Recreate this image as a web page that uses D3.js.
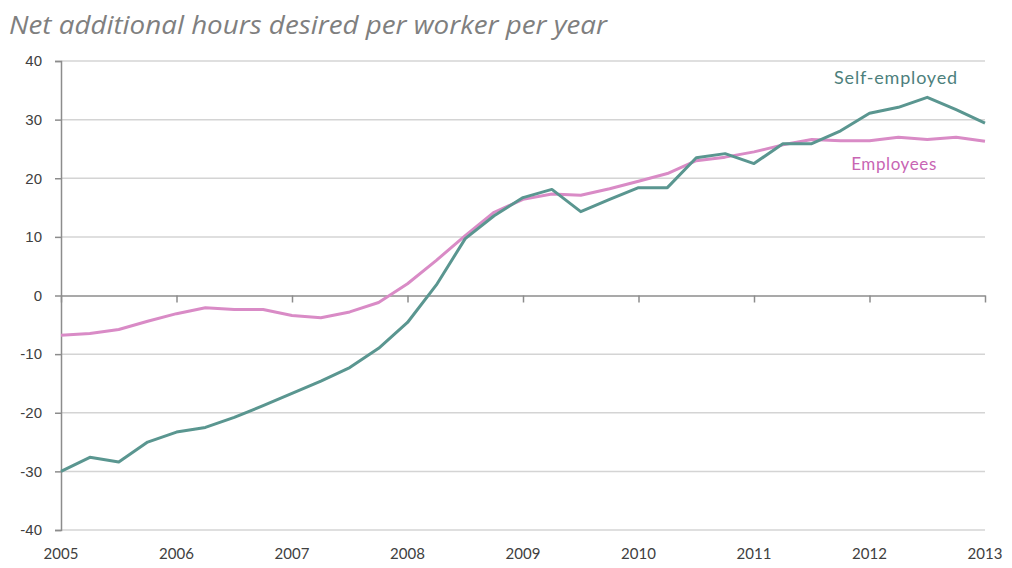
<!DOCTYPE html>
<html>
<head>
<meta charset="utf-8">
<script src="https://cdn.jsdelivr.net/npm/d3@7"></script>
<style>
  body { margin: 0; background: #fff; }
  svg { display: block; font-family: Lato, "Open Sans", sans-serif; }
</style>
</head>
<body>
<script>
// quarterly, 2005 Q1 .. 2013 Q1
const quarters = d3.range(33).map(i => 2005 + i / 4);

const selfEmployed = [
  -30, -27.6, -28.4, -25, -23.3, -22.5, -20.8, -18.8, -16.7, -14.6, -12.3, -9, -4.6,
  1.8, 9.7, 13.6, 16.7, 18.1, 14.3, 16.4, 18.4, 18.4, 23.5, 24.2, 22.5, 25.9,
  25.9, 28.1, 31.1, 32.1, 33.8, 31.7, 29.4
];

const employees = [
  -6.8, -6.5, -5.8, -4.4, -3.1, -2.1, -2.4, -2.4, -3.4, -3.8, -2.8, -1.2, 2,
  6, 10.2, 14.2, 16.4, 17.3, 17.1, 18.2, 19.5, 20.8, 23, 23.6, 24.5, 25.7,
  26.6, 26.4, 26.4, 27, 26.6, 27, 26.3
];

const yTicks = [-40, -30, -20, -10, 0, 10, 20, 30, 40];
const yearTicks = d3.range(2005, 2014);

const width = 1012, height = 568;
const margin = {top: 61, right: 27, bottom: 38, left: 61};

const svg = d3.select('body').append('svg')
  .attr('width', width)
  .attr('height', height);

const x = d3.scaleLinear()
  .domain([2005, 2013])
  .range([margin.left, width - margin.right]);

const y = d3.scaleLinear()
  .domain([-40, 40])
  .range([height - margin.bottom, margin.top]);

// title
svg.append('text')
  .attr('x', 9)
  .attr('y', 34)
  .attr('fill', '#7f7f7f')
  .attr('font-family', '"Open Sans", sans-serif')
  .attr('font-size', 26)
  .attr('font-style', 'italic')
  .attr('textLength', 598)
  .attr('lengthAdjust', 'spacingAndGlyphs')
  .text('Net additional hours desired per worker per year');

// gridlines
svg.append('g')
  .selectAll('line')
  .data(yTicks.filter(d => d !== 0))
  .join('line')
    .attr('x1', x(2005))
    .attr('x2', x(2013))
    .attr('y1', d => y(d))
    .attr('y2', d => y(d))
    .attr('stroke', '#d4d4d4')
    .attr('stroke-width', 1.5);

// y axis
const yAxis = svg.append('g')
  .attr('transform', `translate(${x(2005)},0)`)
  .call(d3.axisLeft(y).tickValues(yTicks).tickSize(6).tickPadding(13)
    .tickFormat(d => String(d)));
yAxis.select('.domain').attr('stroke', '#8c8c8c').attr('stroke-width', 1.5);
yAxis.selectAll('.tick line').attr('stroke', '#8c8c8c').attr('stroke-width', 1.5);
yAxis.selectAll('.tick text')
  .attr('fill', '#404040')
  .attr('font-size', 15);

// zero axis with year ticks
const xAxis = svg.append('g')
  .attr('transform', `translate(0,${y(0)})`)
  .call(d3.axisBottom(x).tickValues(yearTicks).tickSize(7).tickSizeOuter(0).tickFormat(''));
xAxis.select('.domain').attr('stroke', '#8c8c8c').attr('stroke-width', 1.5);
xAxis.selectAll('.tick line').attr('stroke', '#8c8c8c').attr('stroke-width', 1.5);

// year labels along the bottom
svg.append('g')
  .selectAll('text')
  .data(yearTicks)
  .join('text')
    .attr('x', d => x(d))
    .attr('y', height - 9)
    .attr('text-anchor', 'middle')
    .attr('fill', '#404040')
    .attr('font-size', 15)
    .text(d => d);

const line = d3.line()
  .x((d, i) => x(quarters[i]))
  .y(d => y(d));

svg.append('path')
  .datum(employees)
  .attr('fill', 'none')
  .attr('stroke', '#d98bc6')
  .attr('stroke-width', 3)
  .attr('stroke-linejoin', 'round')
  .attr('d', line);

svg.append('path')
  .datum(selfEmployed)
  .attr('fill', 'none')
  .attr('stroke', '#5a9690')
  .attr('stroke-width', 3)
  .attr('stroke-linejoin', 'round')
  .attr('d', line);

// series labels
svg.append('text')
  .attr('x', 896)
  .attr('y', 84)
  .attr('text-anchor', 'middle')
  .attr('fill', '#4d7f7c')
  .attr('font-size', 18)
  .attr('letter-spacing', 0.8)
  .text('Self-employed');

svg.append('text')
  .attr('x', 894)
  .attr('y', 170)
  .attr('text-anchor', 'middle')
  .attr('fill', '#c865b3')
  .attr('font-size', 17)
  .attr('letter-spacing', 0.6)
  .text('Employees');
</script>
</body>
</html>
